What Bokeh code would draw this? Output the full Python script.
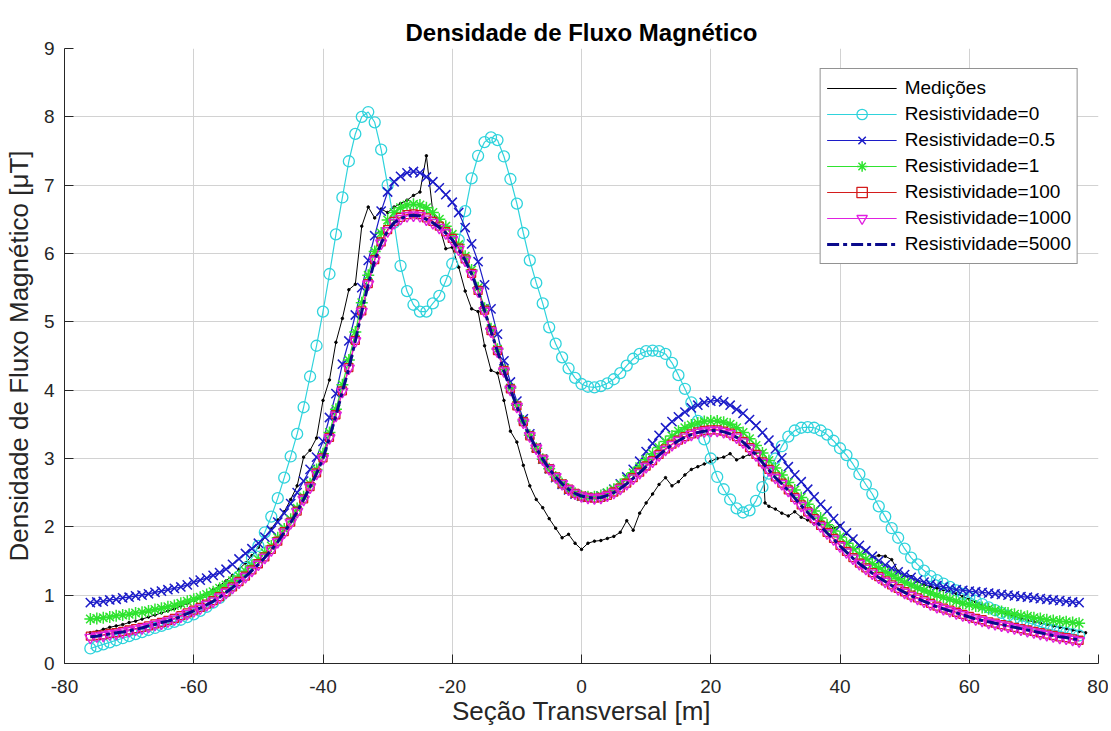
from bokeh.plotting import figure
from bokeh.models import Range1d, FixedTicker, Legend, LegendItem, CustomJSTickFormatter
from bokeh.embed import file_html
from bokeh.resources import INLINE

# ---------------- data ----------------
x = list(range(-76, 78))

res0 = [0.22,0.25,0.28,0.31,0.34,0.37,0.40,0.43,0.46,0.49,
        0.52,0.55,0.58,0.61,0.64,0.68,0.72,0.77,0.83,0.89,
        0.96,1.05,1.15,1.27,1.40,1.55,1.72,1.92,2.15,2.42,
        2.72,3.03,3.36,3.75,4.20,4.65,5.15,5.70,6.28,6.82,
        7.35,7.75,8.00,8.07,7.92,7.52,7.00,6.45,5.82,5.45,
        5.25,5.15,5.15,5.27,5.38,5.60,5.85,6.20,6.62,7.10,
        7.43,7.63,7.70,7.66,7.42,7.09,6.73,6.30,5.90,5.57,
        5.27,4.92,4.68,4.48,4.32,4.18,4.09,4.05,4.04,4.06,
        4.10,4.16,4.25,4.36,4.46,4.53,4.57,4.58,4.57,4.53,
        4.40,4.22,4.02,3.82,3.55,3.28,3.00,2.73,2.55,2.40,
        2.27,2.21,2.24,2.38,2.58,2.78,3.00,3.18,3.32,3.41,
        3.45,3.46,3.45,3.41,3.35,3.26,3.15,3.05,2.92,2.77,
        2.62,2.48,2.30,2.15,1.98,1.84,1.68,1.55,1.45,1.36,
        1.28,1.22,1.17,1.12,1.07,1.02,0.97,0.92,0.87,0.82,
        0.78,0.74,0.70,0.66,0.63,0.60,0.57,0.54,0.51,0.49,
        0.47,0.45,0.43,0.41]

res05 = [0.89,0.90,0.91,0.93,0.94,0.96,0.97,0.99,1.00,1.02,
         1.04,1.06,1.08,1.10,1.12,1.15,1.19,1.22,1.25,1.29,
         1.33,1.38,1.45,1.53,1.61,1.68,1.76,1.85,1.95,2.07,
         2.20,2.34,2.50,2.67,2.84,3.02,3.25,3.60,3.95,4.38,
         4.72,5.10,5.50,5.90,6.26,6.62,6.90,7.05,7.13,7.18,
         7.20,7.18,7.12,7.05,6.96,6.86,6.75,6.60,6.38,6.14,
         5.88,5.54,5.19,4.82,4.43,4.12,3.84,3.58,3.36,3.16,
         2.99,2.85,2.72,2.62,2.54,2.48,2.45,2.43,2.43,2.45,
         2.49,2.55,2.63,2.73,2.84,2.96,3.10,3.22,3.34,3.45,
         3.54,3.61,3.68,3.74,3.78,3.82,3.84,3.85,3.83,3.78,
         3.72,3.66,3.57,3.48,3.38,3.27,3.14,3.01,2.88,2.76,
         2.66,2.55,2.44,2.33,2.23,2.12,2.01,1.91,1.82,1.73,
         1.65,1.57,1.50,1.44,1.39,1.34,1.30,1.26,1.22,1.19,
         1.16,1.14,1.12,1.10,1.08,1.07,1.06,1.05,1.04,1.03,
         1.02,1.01,1.00,0.99,0.98,0.97,0.96,0.95,0.94,0.93,
         0.92,0.91,0.90,0.89]

res1 = [0.65,0.66,0.67,0.68,0.70,0.71,0.72,0.74,0.75,0.77,
        0.79,0.81,0.83,0.85,0.88,0.91,0.94,0.97,1.01,1.05,
        1.10,1.15,1.21,1.28,1.35,1.43,1.52,1.62,1.72,1.84,
        1.97,2.11,2.27,2.44,2.63,2.84,3.07,3.38,3.72,4.08,
        4.44,4.85,5.28,5.68,6.03,6.30,6.49,6.60,6.67,6.71,
        6.72,6.71,6.67,6.60,6.50,6.40,6.28,6.13,5.96,5.76,
        5.50,5.20,4.90,4.60,4.30,4.03,3.78,3.55,3.34,3.15,
        2.99,2.85,2.73,2.63,2.55,2.49,2.45,2.44,2.44,2.46,
        2.50,2.55,2.62,2.70,2.79,2.88,2.98,3.07,3.16,3.25,
        3.33,3.40,3.45,3.49,3.52,3.54,3.55,3.55,3.53,3.50,
        3.45,3.38,3.29,3.19,3.08,2.97,2.86,2.76,2.65,2.54,
        2.43,2.33,2.23,2.13,2.03,1.94,1.85,1.76,1.68,1.60,
        1.53,1.46,1.40,1.34,1.29,1.24,1.19,1.15,1.11,1.07,
        1.03,1.00,0.97,0.94,0.91,0.88,0.86,0.84,0.82,0.80,
        0.78,0.76,0.74,0.72,0.70,0.69,0.67,0.66,0.64,0.63,
        0.62,0.61,0.60,0.59]

res100 = [0.40,0.41,0.42,0.44,0.45,0.47,0.49,0.51,0.53,0.55,
          0.58,0.60,0.63,0.66,0.70,0.74,0.78,0.82,0.87,0.92,
          0.98,1.05,1.12,1.20,1.28,1.37,1.46,1.56,1.67,1.79,
          1.93,2.07,2.23,2.41,2.59,2.79,3.01,3.31,3.64,3.99,
          4.33,4.73,5.16,5.56,5.91,6.17,6.35,6.47,6.53,6.57,
          6.58,6.57,6.52,6.47,6.40,6.32,6.22,6.08,5.92,5.71,
          5.46,5.17,4.87,4.58,4.29,4.02,3.77,3.54,3.33,3.15,
          2.99,2.85,2.73,2.63,2.55,2.49,2.45,2.43,2.42,2.43,
          2.46,2.51,2.57,2.64,2.72,2.80,2.89,2.97,3.06,3.14,
          3.21,3.27,3.32,3.36,3.39,3.41,3.42,3.42,3.40,3.37,
          3.32,3.25,3.16,3.06,2.95,2.84,2.73,2.64,2.54,2.43,
          2.32,2.22,2.12,2.02,1.92,1.83,1.73,1.64,1.55,1.47,
          1.40,1.33,1.27,1.21,1.15,1.10,1.05,1.00,0.96,0.92,
          0.88,0.84,0.81,0.78,0.75,0.72,0.69,0.66,0.64,0.61,
          0.59,0.57,0.55,0.53,0.51,0.49,0.47,0.45,0.43,0.41,
          0.39,0.38,0.36,0.34]

res1000 = [0.38,0.40,0.41,0.43,0.44,0.46,0.48,0.50,0.52,0.54,
           0.57,0.59,0.62,0.65,0.69,0.73,0.77,0.81,0.86,0.91,
           0.97,1.04,1.11,1.19,1.27,1.36,1.45,1.55,1.66,1.78,
           1.92,2.06,2.22,2.40,2.58,2.78,3.00,3.30,3.63,3.98,
           4.32,4.72,5.15,5.55,5.90,6.15,6.33,6.45,6.51,6.55,
           6.56,6.55,6.50,6.45,6.38,6.30,6.20,6.06,5.90,5.70,
           5.45,5.16,4.86,4.57,4.28,4.01,3.76,3.53,3.33,3.15,
           2.99,2.85,2.73,2.63,2.55,2.49,2.45,2.43,2.42,2.43,
           2.46,2.50,2.56,2.63,2.71,2.79,2.88,2.96,3.05,3.13,
           3.20,3.26,3.31,3.35,3.38,3.40,3.41,3.41,3.39,3.36,
           3.31,3.24,3.15,3.05,2.94,2.83,2.72,2.63,2.53,2.42,
           2.31,2.21,2.11,2.01,1.91,1.82,1.72,1.63,1.54,1.46,
           1.39,1.32,1.26,1.20,1.14,1.09,1.04,0.99,0.95,0.91,
           0.87,0.83,0.80,0.77,0.74,0.71,0.68,0.65,0.63,0.60,
           0.58,0.56,0.54,0.52,0.50,0.48,0.46,0.44,0.42,0.40,
           0.38,0.37,0.35,0.33]

res5000 = [0.39,0.40,0.42,0.43,0.45,0.46,0.48,0.50,0.52,0.55,
           0.57,0.60,0.62,0.65,0.69,0.73,0.77,0.81,0.86,0.91,
           0.97,1.04,1.11,1.19,1.27,1.36,1.45,1.55,1.66,1.78,
           1.92,2.06,2.22,2.40,2.58,2.78,3.00,3.30,3.63,3.98,
           4.32,4.72,5.15,5.55,5.90,6.15,6.33,6.45,6.51,6.55,
           6.56,6.55,6.50,6.45,6.38,6.30,6.20,6.06,5.90,5.70,
           5.45,5.16,4.86,4.57,4.28,4.01,3.76,3.53,3.33,3.15,
           2.99,2.85,2.73,2.63,2.55,2.49,2.45,2.43,2.42,2.43,
           2.46,2.50,2.56,2.63,2.71,2.79,2.88,2.96,3.05,3.13,
           3.20,3.26,3.31,3.35,3.38,3.40,3.41,3.41,3.39,3.36,
           3.31,3.24,3.15,3.05,2.94,2.83,2.72,2.63,2.53,2.42,
           2.31,2.21,2.11,2.01,1.91,1.82,1.72,1.63,1.54,1.46,
           1.39,1.32,1.26,1.20,1.14,1.09,1.04,0.99,0.95,0.91,
           0.87,0.83,0.80,0.77,0.74,0.71,0.68,0.65,0.63,0.61,
           0.59,0.57,0.55,0.53,0.51,0.49,0.47,0.45,0.43,0.41,
           0.39,0.38,0.36,0.35]

mx = list(range(-76, 29)) + [28.4] + list(range(29, 79))
meas = [0.45,0.47,0.50,0.53,0.55,0.57,0.60,0.62,0.65,0.68,
        0.71,0.74,0.77,0.80,0.84,0.88,0.92,0.97,1.02,1.08,
        1.14,1.21,1.29,1.38,1.47,1.58,1.70,1.85,1.97,2.10,
        2.22,2.40,2.60,3.02,3.12,3.30,3.85,4.15,4.70,5.05,
        5.47,5.55,6.40,6.68,6.52,6.65,6.60,6.68,6.73,6.78,
        6.85,6.90,7.43,6.60,6.40,6.07,6.09,5.80,5.45,5.19,
        5.15,4.65,4.29,4.25,3.85,3.40,3.24,2.90,2.60,2.40,
        2.28,2.12,1.98,1.84,1.89,1.76,1.67,1.76,1.79,1.80,
        1.83,1.86,1.92,2.09,1.95,2.20,2.35,2.48,2.62,2.72,
        2.60,2.66,2.76,2.84,2.88,2.92,2.96,3.00,3.02,3.07,
        2.98,3.02,3.06,3.08,3.10,
        2.35,
        2.30,2.26,2.20,2.16,2.22,2.14,2.10,2.04,2.08,2.05,
        1.98,2.02,1.90,1.82,1.72,1.65,1.56,1.58,1.57,1.52,
        1.35,1.28,1.27,1.20,1.15,1.12,1.10,1.08,1.05,1.02,
        0.98,0.94,0.90,0.86,0.82,0.78,0.75,0.72,0.69,0.66,
        0.63,0.61,0.59,0.57,0.55,0.53,0.51,0.49,0.47,0.45]

x_ticks = [-80, -60, -40, -20, 0, 20, 40, 60, 80]
y_ticks = [0, 1, 2, 3, 4, 5, 6, 7, 8, 9]

labels = ["Medições", "Resistividade=0", "Resistividade=0.5", "Resistividade=1",
          "Resistividade=100", "Resistividade=1000", "Resistividade=5000"]

# ---------------- figure ----------------
FONT = "Liberation Sans"
TXT = "#262626"

p = figure(width=1108, height=731, x_range=Range1d(-80, 80), y_range=Range1d(0, 9),
           output_backend="svg", toolbar_location=None,
           min_border_left=64, min_border_right=10, min_border_top=48, min_border_bottom=68)

p.title.text = "Densidade de Fluxo Magnético"
p.title.align = "center"
p.title.text_font = FONT
p.title.text_font_size = "24px"
p.title.text_font_style = "bold"
p.title.text_color = "#000000"
p.title.standoff = 6

p.outline_line_color = None
p.background_fill_color = "white"
p.border_fill_color = "white"

for ax in (p.xaxis[0], p.yaxis[0]):
    ax.axis_line_color = TXT
    ax.axis_line_width = 1
    ax.major_tick_line_color = TXT
    ax.major_tick_in = 9
    ax.major_tick_out = 0
    ax.minor_tick_line_color = None
    ax.major_label_text_font = FONT
    ax.major_label_text_font_size = "19px"
    ax.major_label_text_color = TXT
    ax.axis_label_text_font = FONT
    ax.axis_label_text_font_size = "26px"
    ax.axis_label_text_font_style = "normal"
    ax.axis_label_text_color = TXT
    ax.formatter = CustomJSTickFormatter(code="return String(tick);")

p.xaxis.ticker = FixedTicker(ticks=x_ticks)
p.yaxis.ticker = FixedTicker(ticks=y_ticks)
p.xaxis.axis_label = "Seção Transversal [m]"
p.yaxis.axis_label = "Densidade de Fluxo Magnético [μT]"
p.xaxis.major_label_standoff = 16
p.xaxis.axis_label_standoff = 0
p.yaxis.major_label_standoff = 10
p.yaxis.axis_label_standoff = 7

p.xgrid.grid_line_color = "#d2d2d2"
p.ygrid.grid_line_color = "#d2d2d2"
p.xgrid.grid_line_width = 1
p.ygrid.grid_line_width = 1

items = []

# Medições
l0 = p.line(mx, meas, line_color="black", line_width=1)
m0 = p.scatter(mx, meas, marker="circle", size=2.5, fill_color="black", line_color="black")
items.append(LegendItem(label=labels[0], renderers=[l0]))

# Resistividade=0
c = "#2fd3dc"
l1 = p.line(x, res0, line_color=c, line_width=1.2)
m1 = p.scatter(x, res0, marker="circle", size=11, fill_color=None, line_color=c, line_width=1.3)
items.append(LegendItem(label=labels[1], renderers=[l1, m1]))

# Resistividade=0.5
c = "#1c1cc8"
l2 = p.line(x, res05, line_color=c, line_width=1.2)
m2 = p.scatter(x, res05, marker="x", size=13, line_color=c, line_width=1.5)
items.append(LegendItem(label=labels[2], renderers=[l2, m2]))

# Resistividade=1
c = "#2fe32f"
l3 = p.line(x, res1, line_color=c, line_width=1.2)
m3 = p.scatter(x, res1, marker="asterisk", size=12, line_color=c, line_width=1.5)
items.append(LegendItem(label=labels[3], renderers=[l3, m3]))

# Resistividade=100
c = "#d41c1c"
l4 = p.line(x, res100, line_color=c, line_width=1.2)
m4 = p.scatter(x, res100, marker="square", size=8, fill_color=None, line_color=c, line_width=1.3)
items.append(LegendItem(label=labels[4], renderers=[l4, m4]))

# Resistividade=1000
c = "#e020e0"
l5 = p.line(x, res1000, line_color=c, line_width=1.2)
m5 = p.scatter(x, res1000, marker="inverted_triangle", size=11, fill_color=None, line_color=c, line_width=1.4)
items.append(LegendItem(label=labels[5], renderers=[l5, m5]))

# Resistividade=5000
l6 = p.line(x, res5000, line_color="#0a0a8c", line_width=3, line_dash="12 4 4 4")
items.append(LegendItem(label=labels[6], renderers=[l6]))

legend = Legend(items=items, location="top_right", margin=20,
                padding=6, spacing=0, label_height=20, glyph_height=26, glyph_width=70,
                label_standoff=8, label_text_font=FONT, label_text_font_size="19px",
                label_text_color="#000000", border_line_color="#262626", border_line_width=1,
                background_fill_color="white", background_fill_alpha=1.0)
p.add_layout(legend)

open("out.html", "w").write(file_html(p, INLINE))
